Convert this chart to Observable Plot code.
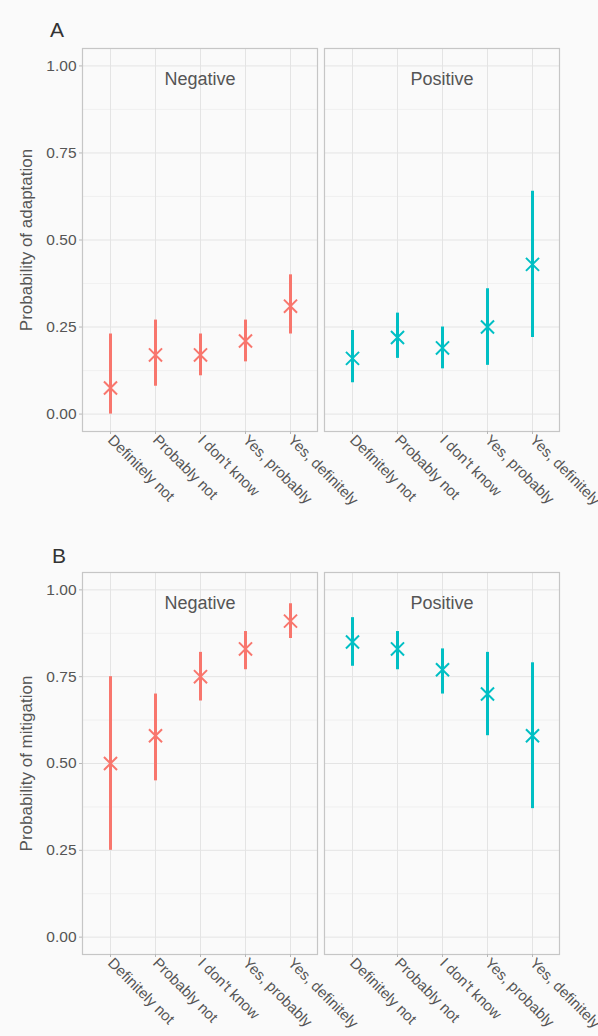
<!DOCTYPE html>
<html>
<head>
<meta charset="utf-8">
<script src="https://cdn.jsdelivr.net/npm/d3@7"></script>
<script src="https://cdn.jsdelivr.net/npm/@observablehq/plot@0.6"></script>
<style>
  html, body { margin: 0; padding: 0; background: #fafafa; }
  body { width: 598px; height: 1036px; overflow: hidden; font-family: "Liberation Sans", Arial, sans-serif; }
  .chart { position: relative; width: 598px; }
  .letter { position: absolute; font-size: 21px; line-height: 21px; color: #333; }
  svg { display: block; background: #fafafa; }
</style>
</head>
<body>
<div class="chart" id="chartA"><div class="letter" style="left:50px;top:19px">A</div></div>
<div class="chart" id="chartB"><div class="letter" style="left:52px;top:20px">B</div></div>
<script>
const categories = ["Definitely not", "Probably not", "I don't know", "Yes, probably", "Yes, definitely"];
const panels = ["Negative", "Positive"];
const colors = ["#F8766D", "#00BFC4"];

// Panel A: probability of adaptation
const adaptNegEst = [0.075, 0.17, 0.17, 0.21, 0.31];
const adaptNegLo  = [0.00, 0.08, 0.11, 0.15, 0.23];
const adaptNegHi  = [0.23, 0.27, 0.23, 0.27, 0.40];
const adaptPosEst = [0.16, 0.22, 0.19, 0.25, 0.43];
const adaptPosLo  = [0.09, 0.16, 0.13, 0.14, 0.22];
const adaptPosHi  = [0.24, 0.29, 0.25, 0.36, 0.64];

// Panel B: probability of mitigation
const mitNegEst = [0.50, 0.58, 0.75, 0.83, 0.91];
const mitNegLo  = [0.25, 0.45, 0.68, 0.77, 0.86];
const mitNegHi  = [0.75, 0.70, 0.82, 0.88, 0.96];
const mitPosEst = [0.85, 0.83, 0.77, 0.70, 0.58];
const mitPosLo  = [0.78, 0.77, 0.70, 0.58, 0.37];
const mitPosHi  = [0.92, 0.88, 0.83, 0.82, 0.79];

const yMajor = [0, 0.25, 0.5, 0.75, 1];
const yMinor = [0.125, 0.375, 0.625, 0.875];

function rows(negEst, negLo, negHi, posEst, posLo, posHi) {
  const out = [];
  categories.forEach((c, i) => out.push({panel: "Negative", cat: c, est: negEst[i], lo: negLo[i], hi: negHi[i]}));
  categories.forEach((c, i) => out.push({panel: "Positive", cat: c, est: posEst[i], lo: posLo[i], hi: posHi[i]}));
  return out;
}

function make(data, ylabel, labelDy, height, marginTop, marginBottom) {
  return Plot.plot({
    width: 598,
    height,
    marginTop,
    marginBottom,
    marginLeft: 81,
    marginRight: 39,
    style: {fontFamily: "'Liberation Sans', Arial, sans-serif", background: "#fafafa"},
    fx: {domain: panels, axis: null, paddingInner: 0.029, paddingOuter: 0},
    x: {type: "point", domain: categories, padding: 0.6, axis: null},
    y: {domain: [-0.05, 1.05], axis: null},
    color: {domain: panels, range: colors},
    marks: [
      Plot.gridY(yMinor, {stroke: "#eeeeee", strokeOpacity: 1, strokeWidth: 0.8}),
      Plot.gridY(yMajor, {stroke: "#e4e4e4", strokeOpacity: 1, strokeWidth: 1}),
      Plot.gridX(categories, {stroke: "#e4e4e4", strokeOpacity: 1, strokeWidth: 1}),
      Plot.frame({stroke: "#c6c6c6", strokeWidth: 1.2}),
      Plot.ruleX(data, {fx: "panel", x: "cat", y1: "lo", y2: "hi", stroke: "panel", strokeWidth: 3}),
      Plot.dot(data, {fx: "panel", x: "cat", y: "est", stroke: "panel", symbol: "times", r: 6, strokeWidth: 2}),
      Plot.text(panels, {fx: d => d, text: d => d, frameAnchor: "top", dy: 24, fontSize: 18, fill: "#555"}),
      Plot.axisY(yMajor, {tickFormat: d3.format(".2f"), fontSize: 15.5, fill: "#555", stroke: "#b8b8b8", tickSize: 3, tickPadding: 3, label: null}),
      Plot.axisY([], {label: ylabel, labelAnchor: "center", labelOffset: 63, labelArrow: "none", fontSize: 17, fill: "#555", dy: labelDy}),
      Plot.axisX(categories, {tickRotate: 45, fontSize: 15, fill: "#555", stroke: "#b8b8b8", tickSize: 3, tickPadding: 3, label: null})
    ]
  });
}

const dataA = rows(adaptNegEst, adaptNegLo, adaptNegHi, adaptPosEst, adaptPosLo, adaptPosHi);
const dataB = rows(mitNegEst, mitNegLo, mitNegHi, mitPosEst, mitPosLo, mitPosHi);

document.getElementById("chartA").appendChild(make(dataA, "Probability of adaptation", -10, 525, 48, 94));
document.getElementById("chartB").appendChild(make(dataB, "Probability of mitigation", 0, 511, 47, 82));
</script>
</body>
</html>
